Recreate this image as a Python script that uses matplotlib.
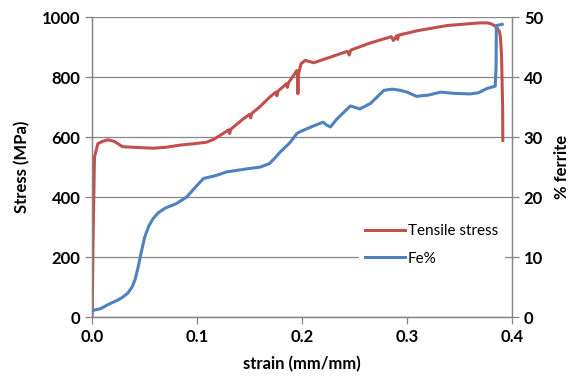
import matplotlib.pyplot as plt
import numpy as np

plt.rcParams['font.family'] = ['Lato', 'DejaVu Sans']

# Tensile stress (MPa) vs strain (mm/mm)
strain_s = [0.0, 0.0008, 0.0022, 0.0054, 0.010, 0.015, 0.021, 0.029, 0.040, 0.058,
            0.070, 0.083, 0.097, 0.109, 0.116, 0.122, 0.130, 0.131, 0.132, 0.144,
            0.150, 0.151, 0.152, 0.160, 0.169, 0.175, 0.176, 0.177, 0.185, 0.186,
            0.187, 0.195, 0.1955, 0.196, 0.1965, 0.199, 0.203, 0.207, 0.211, 0.228,
            0.243, 0.245, 0.246, 0.247, 0.265, 0.285, 0.287, 0.290, 0.291, 0.292,
            0.310, 0.338, 0.355, 0.370, 0.376, 0.380, 0.385, 0.388, 0.389, 0.390,
            0.391, 0.3912]
stress = [0, 250, 533, 578, 586, 591, 586, 568, 566, 563,
          566, 573, 578, 583, 593, 606, 624, 612, 626, 661,
          676, 664, 679, 702, 733, 750, 738, 753, 778, 766,
          781, 822, 808, 745, 810, 845, 856, 852, 848, 868,
          886, 874, 888, 891, 914, 935, 922, 938, 926, 940,
          955, 972, 977, 981, 981, 978, 968, 952, 930, 870,
          700, 589]

# Ferrite content (%) vs strain
strain_fe = [0.0006, 0.008, 0.0165, 0.024, 0.029, 0.034, 0.038, 0.041, 0.044, 0.047,
             0.050, 0.054, 0.058, 0.063, 0.070, 0.080, 0.090, 0.098, 0.106, 0.118,
             0.128, 0.147, 0.160, 0.169, 0.174, 0.179, 0.188, 0.195, 0.198, 0.210,
             0.220, 0.2235, 0.227, 0.233, 0.246, 0.255, 0.265, 0.278, 0.286, 0.2935,
             0.300, 0.309, 0.320, 0.332, 0.345, 0.360, 0.368, 0.376, 0.384, 0.3848,
             0.385, 0.3906]
fe_pct = [1.1, 1.4, 2.2, 2.8, 3.3, 4.0, 5.0, 6.3, 8.5, 11.0,
          13.3, 15.2, 16.4, 17.4, 18.2, 18.9, 20.0, 21.6, 23.1, 23.6,
          24.2, 24.7, 25.0, 25.6, 26.5, 27.5, 29.0, 30.6, 30.9, 31.8,
          32.5, 32.0, 31.7, 33.0, 35.2, 34.7, 35.6, 37.8, 38.0, 37.8,
          37.5, 36.8, 37.0, 37.5, 37.3, 37.2, 37.4, 38.1, 38.5, 42.0,
          48.6, 48.8]

red = '#C0504D'
blue = '#4F81BD'
grey = '#868686'

fig, ax = plt.subplots(figsize=(5.76, 3.9), dpi=100)
fig.subplots_adjust(left=0.160, right=0.889, top=0.956, bottom=0.187)
ax2 = ax.twinx()

ax.plot(strain_s, stress, color=red, lw=2.2, label='Tensile stress', zorder=3)
ax2.plot(strain_fe, fe_pct, color=blue, lw=2.2, label='Fe%', zorder=3)

ax.set_xlim(0, 0.4)
ax.set_ylim(0, 1000)
ax2.set_ylim(0, 50)
ax.set_xticks(np.arange(0, 0.41, 0.1))
ax.set_xticklabels(['0.0', '0.1', '0.2', '0.3', '0.4'])
ax.set_yticks(range(0, 1001, 200))
ax2.set_yticks(range(0, 51, 10))

ax.yaxis.grid(True, color=grey, lw=0.9)
ax.set_axisbelow(True)
for a in (ax, ax2):
    a.spines['top'].set_visible(False)
    for s in ('left', 'right', 'bottom'):
        a.spines[s].set_color(grey)
        a.spines[s].set_linewidth(0.9)
    a.tick_params(colors=grey, length=5, width=0.9, labelsize=12, labelcolor='black')
    for lab in a.get_xticklabels() + a.get_yticklabels():
        lab.set_fontweight('bold')

ax.set_xlabel('strain (mm/mm)', fontsize=12, fontweight='bold', labelpad=8)
ax.set_ylabel('Stress (MPa)', fontsize=12, fontweight='bold', labelpad=8)
ax2.set_ylabel('% ferrite', fontsize=12, fontweight='bold', labelpad=8)

lines = ax.get_lines() + ax2.get_lines()
leg = ax2.legend(lines, [l.get_label() for l in lines], loc='lower right',
                 bbox_to_anchor=(1.0, 0.125), frameon=True, fontsize=11,
                 handlelength=2.6, handletextpad=0.2, labelspacing=0.9,
                 borderpad=0.4, fancybox=False)
leg.get_frame().set_edgecolor('white')
leg.get_frame().set_facecolor('white')
leg.get_frame().set_alpha(1)

fig.savefig('out.png', dpi=100)
